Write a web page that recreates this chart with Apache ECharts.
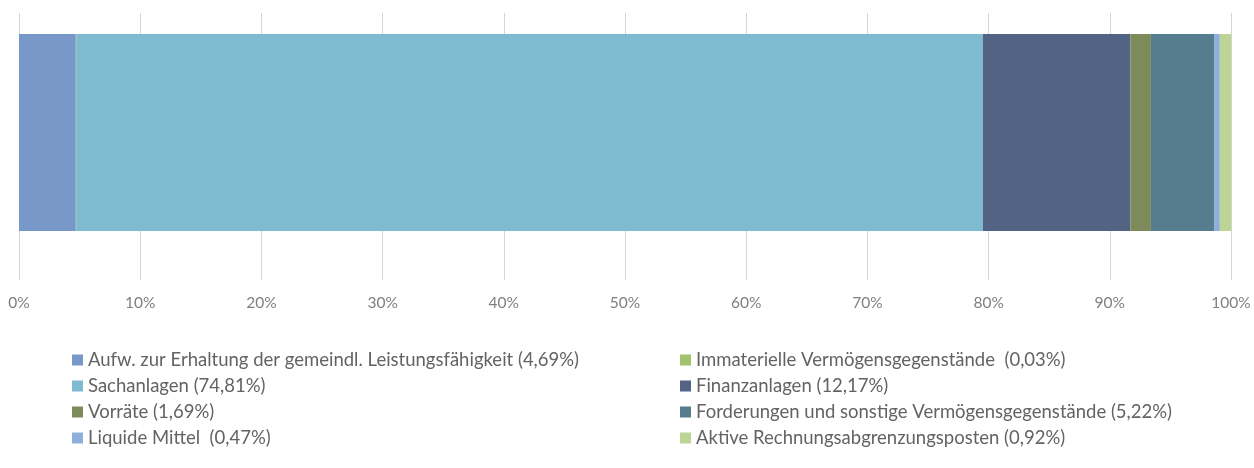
<!DOCTYPE html>
<html>
<head>
<meta charset="utf-8">
<script src="https://cdn.jsdelivr.net/npm/echarts@6/dist/echarts.min.js"></script>
<style>
  html, body { margin: 0; padding: 0; background: #fff; }
  #chart { width: 1254px; height: 468px; }
</style>
</head>
<body>
<div id="chart"></div>
<script>
// Vermögensstruktur, Anteile in %
const categories = ['Aktiva']
const seriesNames = [
  'Aufw. zur Erhaltung der gemeindl. Leistungsfähigkeit (4,69%)',
  'Immaterielle Vermögensgegenstände  (0,03%)',
  'Sachanlagen (74,81%)',
  'Finanzanlagen (12,17%)',
  'Vorräte (1,69%)',
  'Forderungen und sonstige Vermögensgegenstände (5,22%)',
  'Liquide Mittel  (0,47%)',
  'Aktive Rechnungsabgrenzungsposten (0,92%)'
]
const shares = [4.69, 0.03, 74.81, 12.17, 1.69, 5.22, 0.47, 0.92]
const colors = ['#7898c9', '#a4c46c', '#7fbbd0', '#536384', '#7d8a5a', '#557d8e', '#8eaedc', '#bcd597']
const legendLeft = [seriesNames[0], seriesNames[2], seriesNames[4], seriesNames[6]]
const legendRight = [seriesNames[1], seriesNames[3], seriesNames[5], seriesNames[7]]

const font = 'Lato, "Open Sans", sans-serif'

let chart = echarts.init(document.getElementById('chart'))
const legendBase = {
  orient: 'vertical',
  top: 350,
  padding: 0,
  icon: 'rect',
  itemWidth: 11,
  itemHeight: 11,
  itemGap: 6,
  textStyle: { color: '#636363', fontSize: 18.5, fontFamily: font, lineHeight: 20 }
}
chart.setOption({
  animation: false,
  color: colors,
  grid: { left: 19, right: 23, top: 13, bottom: 216 },
  legend: [
    Object.assign({ left: 72, data: legendLeft }, legendBase),
    Object.assign({ left: 680, data: legendRight }, legendBase)
  ],
  xAxis: {
    type: 'value',
    min: 0,
    max: 100,
    interval: 10,
    axisLine: { show: false },
    // Striche unterhalb der Zeichenfläche wie im Original
    axisTick: { show: true, length: 28, lineStyle: { color: '#d4d4d4' } },
    axisLabel: { formatter: '{value}%', color: '#7f7f7f', fontSize: 15.5, fontFamily: font, margin: 43 },
    splitLine: { lineStyle: { color: '#d4d4d4', width: 1 } }
  },
  yAxis: {
    type: 'category',
    data: categories,
    axisLine: { show: false },
    axisTick: { show: false },
    axisLabel: { show: false }
  },
  series: seriesNames.map((name, i) => ({
    name: name,
    type: 'bar',
    stack: 'total',
    barWidth: 197,
    data: [shares[i]],
    itemStyle: { color: colors[i] }
  }))
})
</script>
</body>
</html>
